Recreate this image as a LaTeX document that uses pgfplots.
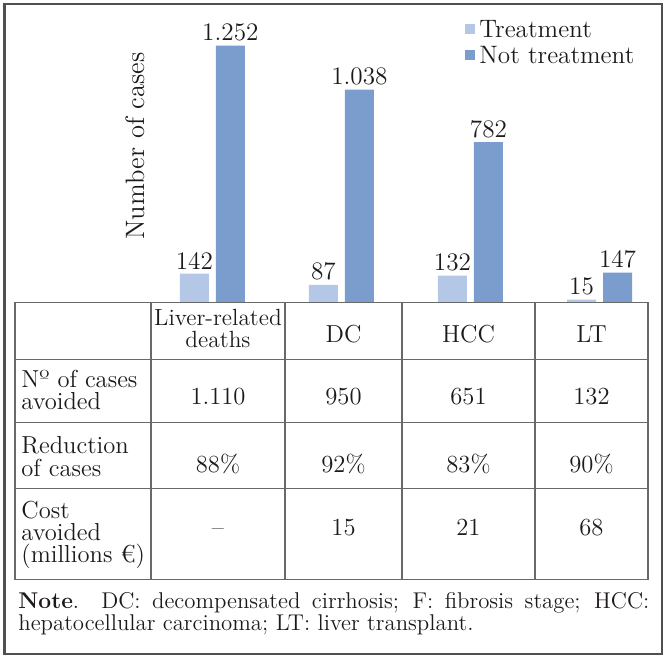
\documentclass[border=0pt]{standalone}
\usepackage{pgfplots}
\pgfplotsset{compat=1.18}
\definecolor{treat}{RGB}{180,199,231}
\definecolor{nottreat}{RGB}{122,157,205}
\definecolor{linegray}{RGB}{105,105,105}
\definecolor{framegray}{RGB}{80,80,80}
\definecolor{txt}{RGB}{30,26,27}
\begin{document}
\begin{tikzpicture}
\useasboundingbox (0,0) rectangle (333pt,-329.5pt);
\begin{axis}[
  at={(73.9pt,-151.35pt)}, anchor=south west,
  scale only axis, width=258.15pt, height=143.7pt,
  xmin=-0.5, xmax=3.5, ymin=0, ymax=1400,
  axis line style={draw=none}, xtick=\empty, ytick=\empty,
  clip=false,
  ybar=3.5pt, bar width=14.5pt,
  nodes near coords, point meta=explicit symbolic,
  nodes near coords style={font=\fontsize{12.6}{14}\selectfont, inner sep=2pt, text=txt},
  ylabel={Number of cases},
  ylabel style={at={(axis description cs:-0.0054,0.545)}, anchor=south, inner sep=0pt, font=\fontsize{13.3}{14}\selectfont, text=txt},
  legend style={at={(axis description cs:0.6144,0.9917)}, anchor=north west, draw=none, fill=none,
    font=\fontsize{12.6}{14}\selectfont, text=txt, inner sep=0pt, row sep=2.5pt, column sep=1pt,
    nodes={inner sep=1pt, text depth=0pt, text height=8.6pt}},
  legend cell align=left,
  legend image code/.code={\fill[#1] (0pt,-2.5pt) rectangle (5pt,2.5pt);},
]
\addplot[fill=treat, draw=none] coordinates {(0,142) [142] (1,87) [87] (2,132) [132] (3,15) [15]};
\addplot[fill=nottreat, draw=none] coordinates {(0,1252) [1.252] (1,1038) [1.038] (2,782) [782] (3,147) [147]};
\legend{Treatment, Not treatment}
\end{axis}
\begin{scope}[x=0.5pt,y=-0.5pt]
\draw[framegray, line width=1pt] (4.5,4) rectangle (662,654);
\draw[linegray, line width=0.6pt] (15,302.7) rectangle (648,579.3);
\foreach \x in {151,285,402,535} \draw[linegray, line width=0.6pt] (\x,302.7) -- (\x,579.3);
\foreach \y in {359.3,422.7,488.7} \draw[linegray, line width=0.6pt] (15,\y) -- (648,\y);
\begin{scope}[every node/.style={inner sep=0pt, text=txt, font=\fontsize{12.3}{11.2}\selectfont}]
\node[anchor=base] at (218,325) {\parbox[t]{70pt}{\centering\fontsize{11.7}{11.2}\selectfont Liver-related\\deaths}};
\node[anchor=base] at (343.5,342) {DC};
\node[anchor=base] at (468.5,342) {HCC};
\node[anchor=base] at (591.5,342) {LT};
\node[anchor=base west] at (21,387) {\parbox[t]{66pt}{\raggedright Nº of cases\\avoided}};
\node[anchor=base west] at (21,453) {\parbox[t]{66pt}{\raggedright\fontsize{12.3}{11.6}\selectfont Reduction\\of cases}};
\node[anchor=base west] at (21,518) {\parbox[t]{66pt}{\raggedright Cost\\avoided\\(millions €)}};
\node[anchor=base] at (218,404) {1.110};
\node[anchor=base] at (343.5,404) {950};
\node[anchor=base] at (468.5,404) {651};
\node[anchor=base] at (591.5,404) {132};
\node[anchor=base] at (218,472) {88\%};
\node[anchor=base] at (343.5,472) {92\%};
\node[anchor=base] at (468.5,472) {83\%};
\node[anchor=base] at (591.5,472) {90\%};
\node[anchor=base] at (218,535) {--};
\node[anchor=base] at (343.5,535) {15};
\node[anchor=base] at (468.5,535) {21};
\node[anchor=base] at (591.5,535) {68};
\node[anchor=base west] at (18,608) {\parbox[t]{315.5pt}{\fontsize{11.4}{11.2}\selectfont\textbf{Note}. DC: decompensated cirrhosis; F: fibrosis stage; HCC:\linebreak hepatocellular carcinoma; LT: liver transplant.}};
\end{scope}
\end{scope}
\end{tikzpicture}
\end{document}
